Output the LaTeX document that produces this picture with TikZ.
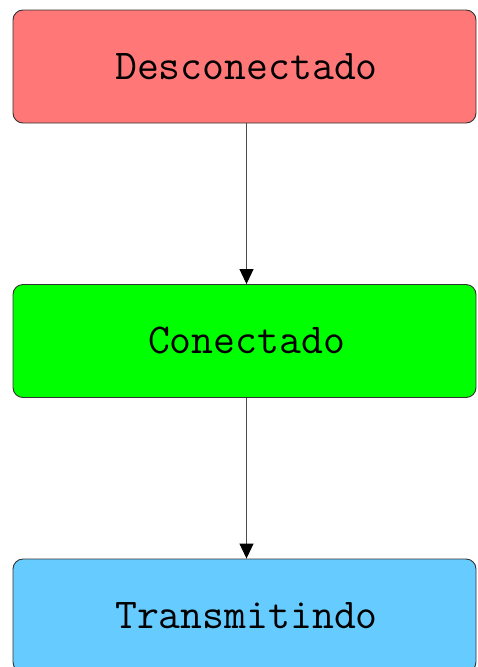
\documentclass[tikz,border=0pt]{standalone}
\usepackage{fontspec}
\usetikzlibrary{arrows.meta}

\definecolor{estadoRojo}{HTML}{FF7777}
\definecolor{estadoVerde}{HTML}{00FF00}
\definecolor{estadoAzul}{HTML}{66CCFF}

\begin{document}
\begin{tikzpicture}[x=1pt, y=-1pt,
    estado/.style={rectangle, rounded corners=10pt, draw=black!80, line width=0.9pt,
        minimum width=463pt, minimum height=113pt, inner sep=0pt,
        font=\ttfamily\fontsize{42.5}{45}\selectfont},
    flecha/.style={draw=black!70, line width=0.9pt,
        -{Triangle[width=14pt,length=15pt,color=black,fill=black]}}]
        % Fixed canvas
        \useasboundingbox (0,0) rectangle (477,667);

        % States
        \node[estado, fill=estadoRojo]  (desc)  at (244.5,66.5)  {\hspace*{4pt}Desconectado};
        \node[estado, fill=estadoVerde] (conec) at (244.5,341)   {\hspace*{4pt}Conectado};
        \node[estado, fill=estadoAzul]  (trans) at (244.5,615.5) {\hspace*{4pt}Transmitindo};

        % Transitions
        \draw[flecha] ([xshift=2pt]desc.south) -- ([xshift=2pt]conec.north);
        \draw[flecha] ([xshift=2pt]conec.south) -- ([xshift=2pt]trans.north);
    \end{tikzpicture}
\end{document}
